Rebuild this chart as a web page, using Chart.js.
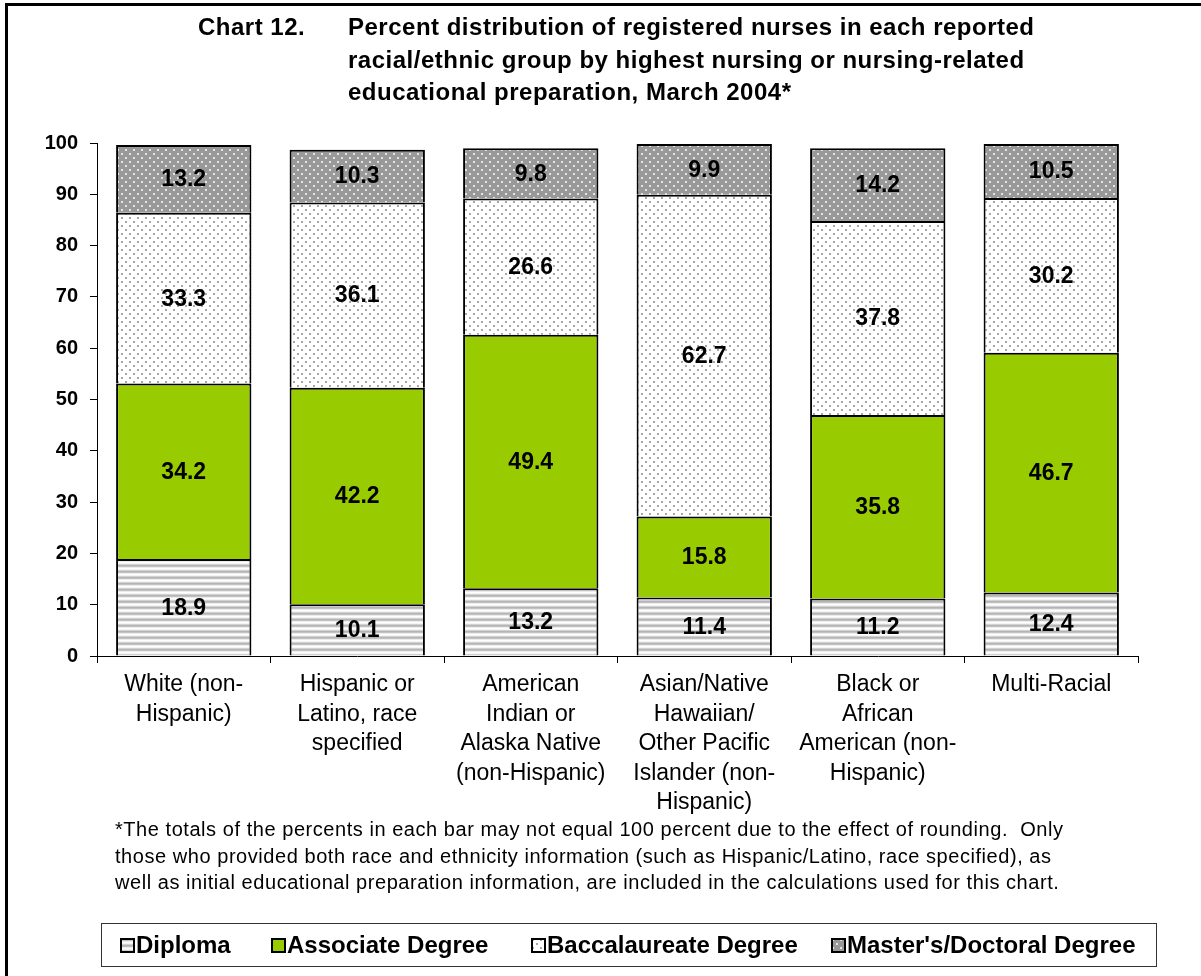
<!DOCTYPE html>
<html>
<head>
<meta charset="utf-8">
<script src="https://cdn.jsdelivr.net/npm/chart.js@4.4.1/dist/chart.umd.min.js"></script>
<style>
    html, body { margin: 0; padding: 0; background: #fff; }
    body { position: relative; width: 1201px; height: 976px; overflow: hidden; font-family: "Liberation Sans", Arial, sans-serif; color: #000; }
    #frame { position: absolute; left: 5px; top: 3px; width: 1300px; height: 1100px; border-left: 3px solid #000; border-top: 3px solid #000; }
    #chart { position: absolute; left: 0; top: 0; }
    .title { position: absolute; top: 11px; font-weight: bold; font-size: 24px; line-height: 32.5px; letter-spacing: 0.5px; white-space: pre; }
    #note { position: absolute; left: 115px; top: 816px; font-size: 20px; line-height: 26.5px; letter-spacing: 0.55px; white-space: pre; }
    #legend { position: absolute; left: 101px; top: 923px; width: 1054px; height: 42px; border: 1px solid #333; }
    .item { position: absolute; top: 0; height: 42px; line-height: 42px; font-weight: bold; font-size: 24px; white-space: pre; }
    .item canvas { position: absolute; left: 0; top: 14px; }
    .item span { position: absolute; top: 0; }
</style>
</head>
<body>
<div id="frame"></div>
<canvas id="chart" width="1201" height="976"></canvas>
<div class="title" style="left:198px;">Chart 12.</div>
<div class="title" style="left:348px;">Percent distribution of registered nurses in each reported
racial/ethnic group by highest nursing or nursing-related
educational preparation, March 2004*</div>
<div id="note">*The totals of the percents in each bar may not equal 100 percent due to the effect of rounding.  Only
those who provided both race and ethnicity information (such as Hispanic/Latino, race specified), as
well as initial educational preparation information, are included in the calculations used for this chart.</div>
<div id="legend"></div>

<script>
    var FONT = '"Liberation Sans", Arial, sans-serif';

    // data
    var categories = [
        ['White (non-', 'Hispanic)'],
        ['Hispanic or', 'Latino, race', 'specified'],
        ['American', 'Indian or', 'Alaska Native', '(non-Hispanic)'],
        ['Asian/Native', 'Hawaiian/', 'Other Pacific', 'Islander (non-', 'Hispanic)'],
        ['Black or', 'African', 'American (non-', 'Hispanic)'],
        ['Multi-Racial']
    ];
    var seriesNames = ['Diploma', 'Associate Degree', 'Baccalaureate Degree', "Master's/Doctoral Degree"];
    var diploma = [18.9, 10.1, 13.2, 11.4, 11.2, 12.4];
    var associate = [34.2, 42.2, 49.4, 15.8, 35.8, 46.7];
    var baccalaureate = [33.3, 36.1, 26.6, 62.7, 37.8, 30.2];
    var masters = [13.2, 10.3, 9.8, 9.9, 14.2, 10.5];
    var yMin = 0, yMax = 100, yStep = 10;

    // legend item left edges (px inside the legend box)
    var legendX = [18, 169, 429, 729];
    var legendTextGap = 16;

    function makeTile(w, h, paint) {
        var c = document.createElement('canvas');
        c.width = w;
        c.height = h;
        paint(c.getContext('2d'));
        return c;
    }

    function stripeTile() {
        return makeTile(6, 6, function (ctx) {
            var rows = ['#d2d2d2', '#b4b4b4', '#c2c2c2', '#ececec', '#ffffff', '#f4f4f4'];
            for (var i = 0; i < rows.length; i++) {
                ctx.fillStyle = rows[i];
                ctx.fillRect(0, i, 6, 1);
            }
        });
    }

    function dotTile(bg, dot) {
        return makeTile(8, 8, function (ctx) {
            ctx.fillStyle = bg;
            ctx.fillRect(0, 0, 8, 8);
            ctx.fillStyle = dot;
            ctx.fillRect(1, 1, 2, 2);
            ctx.fillRect(5, 5, 2, 2);
        });
    }

    var tiles = [stripeTile(), null, dotTile('#ffffff', '#a8a8a8'), dotTile('#999999', '#e4e4e4')];
    var solid = [null, '#99cc00', null, null];

    var chartCtx = document.getElementById('chart').getContext('2d');
    function fillFor(i) {
        return solid[i] || chartCtx.createPattern(tiles[i], 'repeat');
    }

    var valueLabels = {
        id: 'valueLabels',
        afterDatasetsDraw: function (chart) {
            var ctx = chart.ctx;
            ctx.save();
            ctx.font = 'bold 23px ' + FONT;
            ctx.fillStyle = '#000';
            ctx.textAlign = 'center';
            ctx.textBaseline = 'middle';
            chart.data.datasets.forEach(function (ds, i) {
                chart.getDatasetMeta(i).data.forEach(function (bar, j) {
                    ctx.fillText(ds.data[j].toFixed(1), bar.x, (bar.y + bar.base) / 2 + 1);
                });
            });
            ctx.restore();
        }
    };

    var seriesData = [diploma, associate, baccalaureate, masters];
    var datasets = seriesData.map(function (values, i) {
        return {
            label: seriesNames[i],
            data: values,
            backgroundColor: fillFor(i),
            borderColor: '#000',
            borderWidth: 2,
            borderSkipped: 'start',
            barPercentage: 0.78,
            categoryPercentage: 1
        };
    });

    new Chart(chartCtx, {
        type: 'bar',
        data: { labels: categories, datasets: datasets },
        plugins: [valueLabels],
        options: {
            responsive: false,
            animation: false,
            layout: { padding: { left: 0, top: 143, right: 63, bottom: 150 } },
            plugins: {
                legend: { display: false },
                title: { display: false },
                tooltip: { enabled: false }
            },
            scales: {
                x: {
                    stacked: true,
                    grid: { drawOnChartArea: false, drawTicks: true, tickLength: 7, color: '#000', lineWidth: 1 },
                    border: { display: true, color: '#000', width: 1 },
                    ticks: {
                        color: '#000',
                        font: { family: FONT, size: 23, lineHeight: 1.283 },
                        padding: 7,
                        maxRotation: 0,
                        autoSkip: false
                    },
                    afterFit: function (scale) { scale.height = 170; }
                },
                y: {
                    stacked: true,
                    min: yMin,
                    max: yMax,
                    grid: { drawOnChartArea: false, drawTicks: true, tickLength: 7, color: '#000', lineWidth: 1 },
                    border: { display: true, color: '#000', width: 1 },
                    ticks: {
                        stepSize: yStep,
                        color: '#000',
                        font: { family: FONT, size: 20, weight: 'bold' },
                        padding: 12
                    },
                    afterFit: function (scale) { scale.width = 97; }
                }
            }
        }
    });

    // legend, drawn with the same fills as the bars
    var legend = document.getElementById('legend');
    seriesNames.forEach(function (name, i) {
        var item = document.createElement('div');
        item.className = 'item';
        item.style.left = legendX[i] + 'px';
        var sw = document.createElement('canvas');
        sw.width = 15;
        sw.height = 15;
        var sctx = sw.getContext('2d');
        sctx.fillStyle = solid[i] || sctx.createPattern(tiles[i], 'repeat');
        sctx.fillRect(0, 0, 15, 15);
        sctx.strokeStyle = '#000';
        sctx.lineWidth = 2;
        sctx.strokeRect(1, 1, 13, 13);
        var txt = document.createElement('span');
        txt.style.left = legendTextGap + 'px';
        txt.textContent = name;
        item.appendChild(sw);
        item.appendChild(txt);
        legend.appendChild(item);
    });
</script>
</body>
</html>
